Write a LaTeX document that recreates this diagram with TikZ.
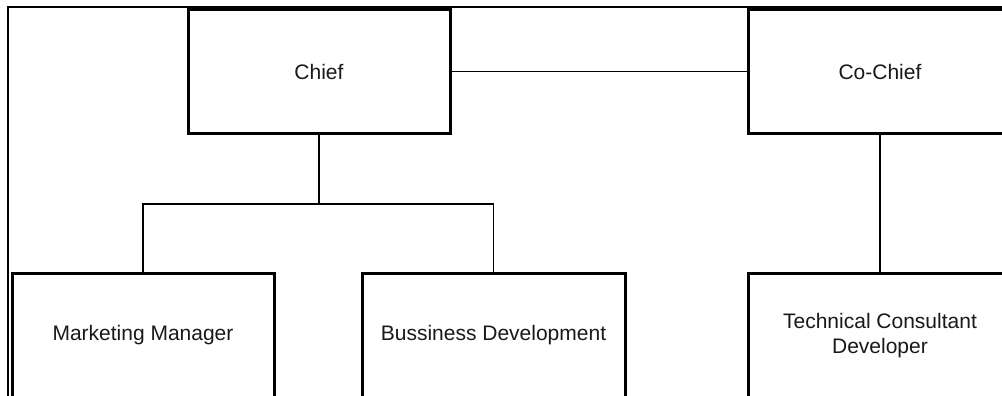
\documentclass[tikz,border=0pt]{standalone}
\usepackage{fontspec}
\setmainfont{Liberation Sans}
\begin{document}
\begin{tikzpicture}[x=1pt,y=-1pt,
  orgbox/.style={draw=black, line width=3pt, fill=white, inner sep=0pt, align=center,
    font=\fontsize{21}{25}\selectfont, text=black!90},
  link/.style={draw=black, line width=1.5pt},
  frameline/.style={draw=black, line width=2.5pt}]
\useasboundingbox (0,0) rectangle (1002,396);
\clip (0,0) rectangle (1002,396);
\fill[white] (0,0) rectangle (1002,396);
\draw[frameline] (8,1200) -- (8,7) -- (1100,7);
\node[orgbox, minimum width=262pt, minimum height=123pt] (chief) at (319,71.5) {Chief};
\node[orgbox, minimum width=264pt, minimum height=123pt] (cochief) at (880,71.5) {Co-Chief};
\node[orgbox, minimum width=262pt, minimum height=125pt] (mm) at (143,335.5) {Marketing Manager};
\node[orgbox, minimum width=263pt, minimum height=125pt] (bd) at (493.5,335.5) {Bussiness Development};
\node[orgbox, minimum width=264pt, minimum height=125pt] (tc) at (880,335.5) {Technical Consultant\\Developer};
\coordinate (j) at (319,204);
\draw[link] (chief.east) -- (cochief.west);
\draw[link] (chief.south) -- (j);
\draw[link] (mm.north) |- (j) -| (bd.north);
\draw[link] (cochief.south) -- (tc.north);
\end{tikzpicture}
\end{document}
